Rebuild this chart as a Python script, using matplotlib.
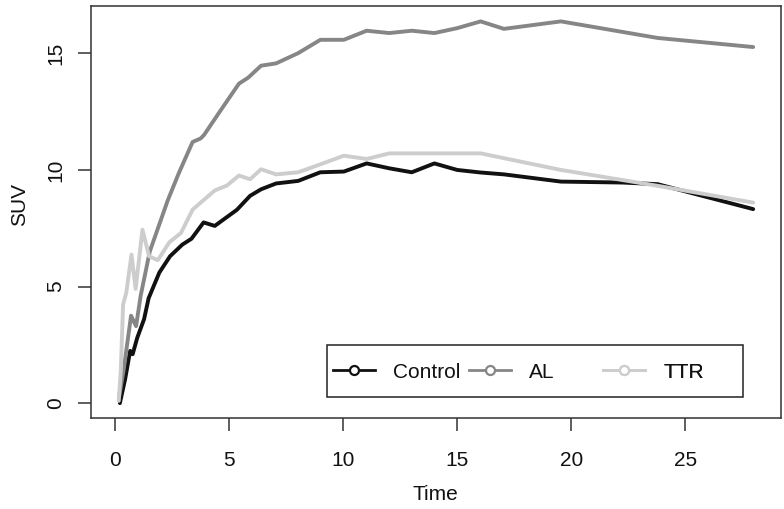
import matplotlib
matplotlib.use('Agg')
import matplotlib.pyplot as plt
from matplotlib.lines import Line2D
from matplotlib.patches import Rectangle

plt.rcParams['font.family'] = ['Liberation Sans', 'DejaVu Sans']

# ---------------- data ----------------
control_t = [0.21, 0.44, 0.66, 0.77, 0.97, 1.27, 1.47, 1.94, 2.41, 2.95, 3.35, 3.88, 4.37,
             5.34, 5.92, 6.40, 7.06, 8.03, 9.0, 10.03, 11.03, 12.02, 13.01, 14.0, 15.0,
             16.03, 17.05, 19.55, 22.23, 23.79, 27.98]
control_suv = [0.0, 1.03, 2.24, 2.1, 2.8, 3.6, 4.5, 5.6, 6.3, 6.8, 7.05, 7.75, 7.6,
               8.29, 8.89, 9.17, 9.42, 9.53, 9.9, 9.93, 10.28, 10.07, 9.9, 10.28, 10.0,
               9.89, 9.81, 9.5, 9.46, 9.39, 8.32]

al_t = [0.18, 0.37, 0.70, 0.92, 1.12, 1.52, 2.31, 2.81, 3.40, 3.75, 3.90, 4.59, 5.43, 5.84,
        6.40, 7.06, 8.03, 9.0, 10.03, 11.03, 12.02, 13.01, 14.0, 15.0, 16.03, 17.05,
        19.55, 23.79, 27.98]
al_suv = [0.3, 1.4, 3.75, 3.3, 4.6, 6.5, 8.7, 9.9, 11.2, 11.35, 11.5, 12.5, 13.7, 13.96,
          14.47, 14.57, 15.01, 15.58, 15.58, 15.97, 15.87, 15.97, 15.87, 16.08, 16.37, 16.05,
          16.37, 15.66, 15.27]

ttr_t = [0.16, 0.25, 0.35, 0.49, 0.72, 0.90, 1.20, 1.49, 1.87, 2.38, 2.89, 3.40, 3.73,
         4.37, 4.90, 5.43, 5.92, 6.40, 7.06, 8.03, 9.0, 10.03, 11.03, 12.02, 16.03,
         19.55, 23.79, 27.98]
ttr_suv = [0.1, 1.4, 4.23, 4.73, 6.37, 4.9, 7.44, 6.3, 6.13, 6.9, 7.3, 8.3, 8.58,
           9.12, 9.33, 9.76, 9.6, 10.03, 9.81, 9.9, 10.24, 10.61, 10.47, 10.71, 10.71,
           10.0, 9.32, 8.6]

series_labels = ['Control', 'AL', 'TTR']
x_ticks = [0, 5, 10, 15, 20, 25]
y_ticks = [0, 5, 10, 15]
x_label = 'Time'
y_label = 'SUV'

# ---------------- figure ----------------
W, H = 784, 509
L, R, T, B = 90.7, 781.0, 6.0, 418.3
fig = plt.figure(figsize=(W / 100, H / 100), dpi=100)
ax = fig.add_axes([L / W, 1 - B / H, (R - L) / W, (B - T) / H])

colors = ['#111111', '#868686', '#cdcdcd']
series = [(control_t, control_suv), (al_t, al_suv), (ttr_t, ttr_suv)]
for (t, v), c in zip(series, colors):
    ax.plot(t, v, color=c, lw=2.8, solid_joinstyle='round', solid_capstyle='round', zorder=3)

ax.set_xlim(-1.07, 29.2)
ax.set_ylim(-0.65, 17.03)
ax.set_xticks(x_ticks)
ax.set_yticks(y_ticks)
ax.set_xticklabels([str(v) for v in x_ticks])
ax.set_yticklabels([str(v) for v in y_ticks], rotation=90, va='center')

frame_col = '#333333'
for s in ax.spines.values():
    s.set_color(frame_col)
    s.set_linewidth(1.1)
ax.tick_params(axis='both', length=9.5, width=1.1, color=frame_col, labelsize=15,
               labelcolor='#111111')
ax.tick_params(axis='x', pad=14)
ax.tick_params(axis='y', pad=9)
ax.set_xlabel(x_label, fontsize=15, color='#111111', labelpad=11)
ax.set_ylabel(y_label, fontsize=15, color='#111111', labelpad=12)
ax.yaxis.label.set_y((B - 205) / (B - T))

# ---------------- legend (R style, horizontal) ----------------
def axx(px):
    return (px - L) / (R - L)

def axy(py):
    return (B - py) / (B - T)

rect = Rectangle((axx(327), axy(397.3)), axx(743.3) - axx(327), axy(345) - axy(397.3),
                 transform=ax.transAxes, facecolor='white', edgecolor='#222222',
                 lw=1.1, zorder=5)
ax.add_patch(rect)

starts = [333, 469, 603]
for i, (lab, c, x0) in enumerate(zip(series_labels, colors, starts)):
    h = Line2D([], [], color=c, lw=2.0, marker='o', markersize=6.5,
               markerfacecolor='white', markeredgecolor=c, markeredgewidth=1.6)
    leg = ax.legend(handles=[h], labels=[lab], loc='center left',
                    bbox_to_anchor=(axx(x0), axy(372)), bbox_transform=ax.transAxes,
                    frameon=False, borderpad=0, borderaxespad=0, handlelength=2.0,
                    handletextpad=0.9, fontsize=15)
    for tx in leg.get_texts():
        tx.set_color('#111111')
    leg.set_zorder(6)
    ax.add_artist(leg)

fig.savefig('out.png', dpi=100)
